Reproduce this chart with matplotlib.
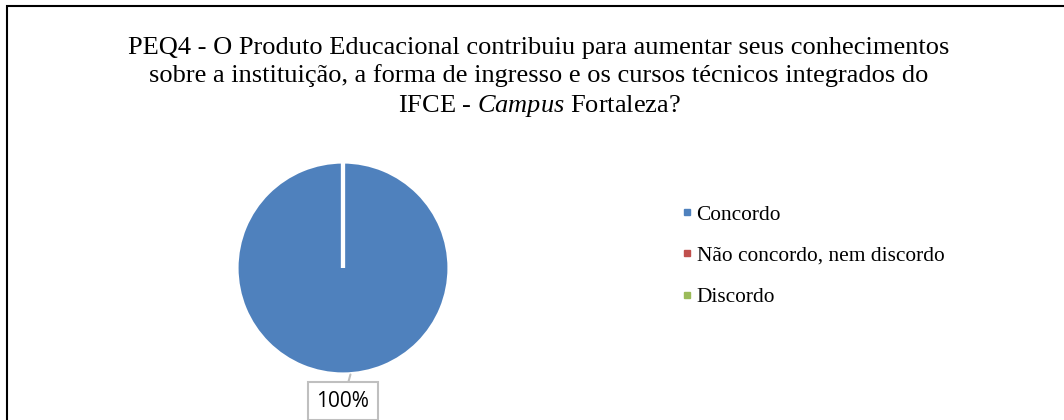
import matplotlib.pyplot as plt
from matplotlib.lines import Line2D
from matplotlib.patches import Rectangle

# respostas da questão PEQ4 (%)
categorias = ['Concordo', 'Não concordo, nem discordo', 'Discordo']
valores = [100, 0, 0]
cores = ['#4F81BD', '#C0504D', '#9BBB59']

titulo = ('PEQ4 - O Produto Educacional contribuiu para aumentar seus conhecimentos\n'
          'sobre a instituição, a forma de ingresso e os cursos técnicos integrados do\n'
          'IFCE - $\\mathit{Campus}$ Fortaleza?')

plt.rcParams['font.family'] = ['Liberation Serif', 'DejaVu Serif']
plt.rcParams['mathtext.fontset'] = 'custom'
plt.rcParams['mathtext.rm'] = 'Liberation Serif'
plt.rcParams['mathtext.it'] = 'Liberation Serif:italic'

W, H = 1064, 420
fig = plt.figure(figsize=(W / 100, H / 100), dpi=100)

# moldura do gráfico
fig.patches.append(Rectangle((7 / W, -0.1), 1.2, (H - 6) / H + 0.1,
                             transform=fig.transFigure, fill=False,
                             edgecolor='black', linewidth=1.5))

fig.text(539 / W, 1 - 78 / H, titulo, ha='center', va='center',
         fontsize=19, linespacing=1.31)

# pizza (a borda branca come ~1.5 px do raio)
cx, cy, r = 343, H - 268, 106.5 * 1.02
ax = fig.add_axes([(cx - r) / W, (cy - r) / H, 2 * r / W, 2 * r / H])
wedges, _ = ax.pie(valores, colors=cores, startangle=90, counterclock=False,
                   radius=1, wedgeprops=dict(edgecolor='white', linewidth=3))
ax.set_xlim(-1.02, 1.02)
ax.set_ylim(-1.02, 1.02)
ax.set_aspect('equal')
ax.axis('off')

total = sum(valores)
pct = f'{valores[0] / total * 100:.0f}%'
ax.annotate(pct, xy=(0.07, -1.0), xytext=(0, -1.25), ha='center', va='center',
            fontsize=15, family=['Open Sans', 'DejaVu Sans'],
            bbox=dict(boxstyle='square,pad=0.42', fc='white', ec='#BFBFBF', lw=1.5),
            arrowprops=dict(arrowstyle='-', color='#BFBFBF', lw=1.5,
                            shrinkA=0, shrinkB=0),
            annotation_clip=False)

handles = [Line2D([], [], marker='s', linestyle='none', markersize=5,
                  markerfacecolor=c, markeredgecolor=c) for c in cores]
fig.legend(handles, categorias, loc='upper left',
           bbox_to_anchor=(672 / W, 1 - 196 / H), frameon=False,
           fontsize=15.4, handlelength=0.6, handletextpad=0.15,
           labelspacing=1.0, borderaxespad=0)

fig.savefig('out.png', dpi=100)
